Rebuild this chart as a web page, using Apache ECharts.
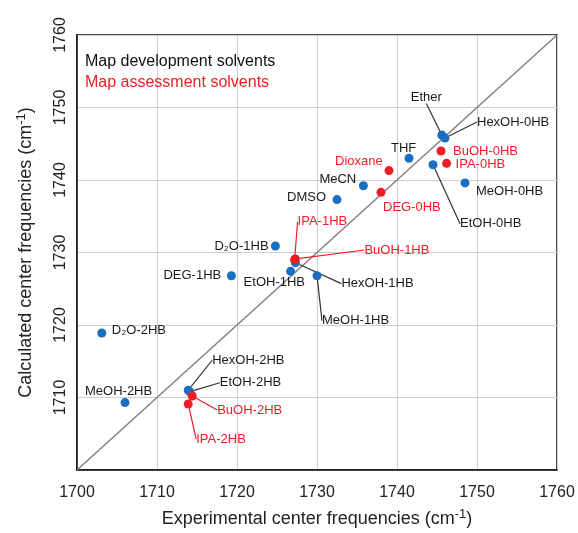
<!DOCTYPE html>
<html>
<head>
<meta charset="utf-8">
<script src="https://cdn.jsdelivr.net/npm/echarts@6/dist/echarts.min.js"></script>
<style>
html,body{margin:0;padding:0;background:#fff;}
#chart{width:578px;height:533px;}
</style>
</head>
<body>
<div id="chart"></div>
<script>
// ---- data ----
const devNames = ['Ether','HexOH-0HB','EtOH-0HB','MeOH-0HB','THF','MeCN','DMSO','D₂O-1HB','DEG-1HB','EtOH-1HB','HexOH-1HB','MeOH-1HB','D₂O-2HB','MeOH-2HB','HexOH-2HB','EtOH-2HB'];
const devExp  = [1745.6,1746.0,1744.5,1748.5,1741.5,1735.8,1732.5,1724.8,1719.3,1726.7,1727.3,1730.0,1703.1,1706.0,1713.9,1714.1];
const devCalc = [1746.2,1745.8,1742.1,1739.6,1743.0,1739.2,1737.3,1730.9,1726.8,1727.4,1728.6,1726.8,1718.9,1709.3,1711.0,1710.8];

const asmNames = ['BuOH-0HB','IPA-0HB','Dioxane','DEG-0HB','IPA-1HB','BuOH-1HB','BuOH-2HB','IPA-2HB'];
const asmExp  = [1745.5,1746.2,1739.0,1738.0,1727.2,1727.3,1714.4,1713.9];
const asmCalc = [1744.0,1742.3,1741.3,1738.3,1729.0,1729.1,1710.2,1709.1];

const diagX = [1700, 1760];
const xTicks = [1700, 1710, 1720, 1730, 1740, 1750, 1760];

// ---- label placement (pixel offsets: text-left minus point x, text-center minus point y) ----
const devLabelOffset = [[-31,-38],[32,-16],[27,59],[11,9],[-18,-10],[-44,-6],[-50,-2],[-61,0],[-68,0],[-47,11],[46,21],[5,45],[10,-3],[-40,-11],[24,-30],[30,-9]];
const devLabelLine   = [1,1,1,0,0,0,0,0,0,0,1,1,0,0,1,1];
const asmLabelOffset = [[12,0],[9,1],[-54,-9],[2,15],[3,-38],[69,-9],[25,14],[8,35]];
const asmLabelLine   = [0,0,0,0,1,1,1,1];

const BLUE = '#1a6fc0';
const RED = '#ee1c24';
const FONT = 'Liberation Sans, Arial, sans-serif';

function buildData(names, xs, ys, lines, color) {
  return names.map((n, i) => ({
    name: n,
    value: [xs[i], ys[i]],
    labelLine: { show: !!lines[i], length2: 0, lineStyle: { color: color, width: 1.2 } }
  }));
}

const chart = echarts.init(document.getElementById('chart'), null, {renderer: 'canvas'});

const option = {
  backgroundColor: '#fff',
  animation: false,
  grid: { left: 77, right: 21, top: 35, bottom: 60, show: true, borderColor: '#111', borderWidth: 1.5, backgroundColor: 'transparent' },
  title: [
    { text: 'Map development solvents', left: 80, top: 49, textStyle: { fontFamily: FONT, fontSize: 16, fontWeight: 'normal', color: '#111' } },
    { text: 'Map assessment solvents', left: 80, top: 70, textStyle: { fontFamily: FONT, fontSize: 16, fontWeight: 'normal', color: RED } }
  ],
  xAxis: {
    type: 'value', min: 1700, max: 1760, interval: 10,
    axisLine: { show: true, lineStyle: { color: '#111', width: 1.5 } },
    axisTick: { show: false },
    splitLine: { show: true, lineStyle: { color: '#d0d0d0', width: 1 } },
    axisLabel: { fontFamily: FONT, fontSize: 16, color: '#222', margin: 15, formatter: v => String(v) },
    name: '{a|Experimental center frequencies (cm}{s|-1}{a|)}',
    nameLocation: 'middle', nameGap: 38,
    nameTextStyle: {
      fontFamily: FONT, fontSize: 18, color: '#222',
      rich: {
        a: { fontFamily: FONT, fontSize: 18, color: '#222' },
        s: { fontFamily: FONT, fontSize: 13, color: '#222', padding: [0, 0, 9, 0] }
      }
    }
  },
  yAxis: {
    type: 'value', min: 1700, max: 1760, interval: 10,
    axisLine: { show: true, lineStyle: { color: '#111', width: 1.5 } },
    axisTick: { show: false },
    splitLine: { show: true, lineStyle: { color: '#d0d0d0', width: 1 } },
    axisLabel: { fontFamily: FONT, fontSize: 16, color: '#222', rotate: 90, margin: 8, showMinLabel: false, formatter: v => String(v) },
    name: '{a|Calculated center frequencies (cm}{s|-1}{a|)}',
    nameLocation: 'middle', nameGap: 40,
    nameTextStyle: {
      fontFamily: FONT, fontSize: 18, color: '#222',
      rich: {
        a: { fontFamily: FONT, fontSize: 18, color: '#222' },
        s: { fontFamily: FONT, fontSize: 13, color: '#222', padding: [0, 0, 9, 0] }
      }
    }
  },
  series: [
    {
      type: 'line',
      data: diagX.map(v => [v, v]),
      symbol: 'none',
      lineStyle: { color: '#808080', width: 1.5 },
      z: 1, silent: true
    },
    {
      type: 'scatter',
      data: buildData(devNames, devExp, devCalc, devLabelLine, '#333'),
      symbolSize: 9,
      itemStyle: { color: BLUE, opacity: 1 },
      label: {
        show: true, position: 'inside', align: 'left', verticalAlign: 'middle',
        formatter: p => p.name, fontFamily: FONT, fontSize: 13, color: '#1a1a1a'
      },
      labelLayout: p => ({ dx: devLabelOffset[p.dataIndex][0], dy: devLabelOffset[p.dataIndex][1] }),
      z: 3
    },
    {
      type: 'scatter',
      data: buildData(asmNames, asmExp, asmCalc, asmLabelLine, RED),
      symbolSize: 9,
      itemStyle: { color: RED, opacity: 1 },
      label: {
        show: true, position: 'inside', align: 'left', verticalAlign: 'middle',
        formatter: p => p.name, fontFamily: FONT, fontSize: 13, color: RED
      },
      labelLayout: p => ({ dx: asmLabelOffset[p.dataIndex][0], dy: asmLabelOffset[p.dataIndex][1] }),
      z: 4
    }
  ]
};

chart.setOption(option);
</script>
</body>
</html>
